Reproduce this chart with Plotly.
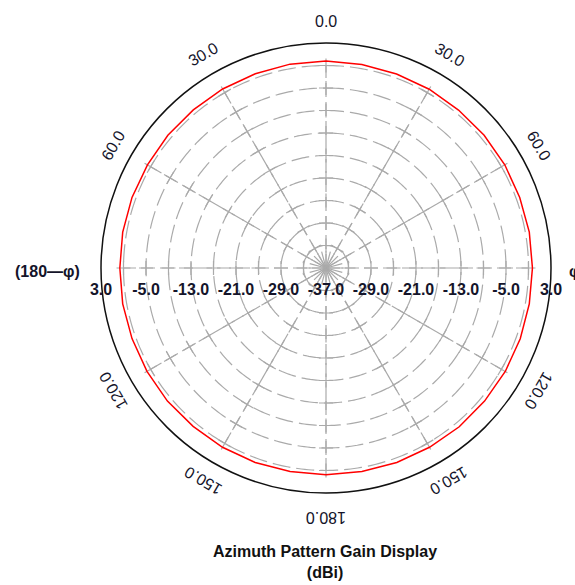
import numpy as np
import plotly.graph_objects as go

# ---- data ----
# measured azimuth gain (dBi) versus angle phi (degrees, clockwise from top)
phi_deg = [0, 10, 20, 30, 40, 50, 60, 70, 80, 90, 100, 110, 120, 130, 140, 150, 160, 170,
           180, 190, 200, 210, 220, 230, 240, 250, 260, 270, 280, 290, 300, 310, 320, 330, 340, 350, 360]
gain_dbi = [-0.2, -0.25, -0.3, -0.3, -0.35, -0.3, -0.3, -0.35, -0.3, -0.3, -0.3, -0.25, -0.2, -0.2,
            -0.15, -0.2, -0.2, -0.25, -0.25, -0.25, -0.2, -0.2, -0.25, -0.2, -0.25, -0.3, -0.3,
            -0.35, -0.3, -0.3, -0.35, -0.3, -0.3, -0.25, -0.25, -0.2, -0.2]

# radial scale (dBi)
r_min, r_max = -37.0, 3.0
ring_values = [-1, -5, -9, -13, -17, -21, -25, -29, -33]
radial_label_values = [3.0, -5.0, -13.0, -21.0, -29.0]
spoke_angles = [0, 30, 60, 90, 120, 150, 180, 210, 240, 270, 300, 330]
hub_angles = list(range(0, 360, 15))

# angular labels: angle (clockwise from top) and text
ang_label_angles = [0, 30, 60, 120, 150, 180, -30, -60, -120, -150]
ang_label_texts = ["0.0", "30.0", "60.0", "120.0", "150.0", "180.0", "30.0", "60.0", "120.0", "150.0"]

title_text = "Azimuth Pattern Gain Display<br>(dBi)"

# ---- layout geometry (pixels) ----
W, H = 575, 585
cx, cy, R = 326, 268, 225

GRID = "#aaaaaa"
TXT = "#14142a"
FONT = "Liberation Sans, Arial, sans-serif"

fig = go.Figure()

# dashed rings
theta_full = np.linspace(0, 360, 361)
for rv in ring_values:
    fig.add_trace(go.Scatterpolar(
        r=[rv] * len(theta_full), theta=theta_full, mode="lines",
        line=dict(color=GRID, width=1.2, dash="18px,6px"),
        hoverinfo="skip", showlegend=False))

# dashed spokes
for a in spoke_angles:
    fig.add_trace(go.Scatterpolar(
        r=[r_min, ring_values[0]], theta=[a, a], mode="lines",
        line=dict(color=GRID, width=1.2, dash="14px,5px"),
        hoverinfo="skip", showlegend=False))

# short hub spokes around the centre
for a in hub_angles:
    fig.add_trace(go.Scatterpolar(
        r=[r_min, r_min + 3.0], theta=[a, a], mode="lines",
        line=dict(color=GRID, width=1.2),
        hoverinfo="skip", showlegend=False))

# tick crosses where spokes meet rings
cr_r, cr_t = [], []
for a in spoke_angles:
    for rv in ring_values:
        cr_r.append(rv)
        cr_t.append(a)
fig.add_trace(go.Scatterpolar(
    r=cr_r, theta=cr_t, mode="markers",
    marker=dict(symbol="cross-thin", size=10, angle=cr_t,
                line=dict(color=GRID, width=1.2)),
    hoverinfo="skip", showlegend=False))

# gain trace
fig.add_trace(go.Scatterpolar(
    r=gain_dbi, theta=phi_deg, mode="lines",
    line=dict(color="#ff0000", width=1.5),
    showlegend=False))

# radial tick labels along the horizontal axis
lab_r = radial_label_values + [r_min] + radial_label_values[::-1]
lab_t = [270] * len(radial_label_values) + [90] + [90] * len(radial_label_values)
lab_txt = ["<b>%.1f</b>" % v for v in lab_r]
fig.add_trace(go.Scatterpolar(
    r=lab_r, theta=lab_t, mode="markers+text", text=lab_txt,
    textposition="bottom center",
    marker=dict(size=22, opacity=0),
    textfont=dict(family=FONT, size=16, color=TXT),
    hoverinfo="skip", showlegend=False))

fig.update_layout(
    width=W, height=H,
    margin=dict(l=0, r=0, t=0, b=0),
    paper_bgcolor="white", plot_bgcolor="white",
    polar=dict(
        domain=dict(x=[(cx - R) / W, (cx + R) / W],
                    y=[1 - (cy + R) / H, 1 - (cy - R) / H]),
        bgcolor="white",
        radialaxis=dict(range=[r_min, r_max], showgrid=False, showticklabels=False,
                        showline=False, ticks=""),
        angularaxis=dict(rotation=90, direction="clockwise", showgrid=False,
                         showticklabels=False, ticks="", showline=True,
                         linecolor="#111111", linewidth=1.5),
    ),
)

# rotated angular labels around the rim
annotations = []
for ang, txt in zip(ang_label_angles, ang_label_texts):
    label_r = 250 if ang == 180 else 246
    t = np.radians(ang)
    px = cx + label_r * np.sin(t)
    py = cy - label_r * np.cos(t)
    annotations.append(dict(
        x=px / W, y=1 - py / H, xref="paper", yref="paper",
        text=txt, showarrow=False, textangle=ang,
        xanchor="center", yanchor="middle",
        font=dict(family=FONT, size=16, color=TXT)))

annotations.append(dict(
    x=47 / W, y=1 - 271 / H, xref="paper", yref="paper",
    text="<b>(180\u2014\u03c6)</b>", showarrow=False,
    xanchor="center", yanchor="middle",
    font=dict(family=FONT, size=16, color=TXT)))
annotations.append(dict(
    x=567 / W, y=1 - 271 / H, xref="paper", yref="paper",
    text="<b>\u03c6</b>", showarrow=False,
    xanchor="left", yanchor="middle",
    font=dict(family=FONT, size=16, color=TXT)))

annotations.append(dict(
    x=325 / W, y=1 - 562 / H, xref="paper", yref="paper",
    text="<b>" + title_text + "</b>", showarrow=False,
    xanchor="center", yanchor="middle",
    font=dict(family=FONT, size=16, color="#111111")))

fig.update_layout(annotations=annotations)

fig.write_html("out.html")
